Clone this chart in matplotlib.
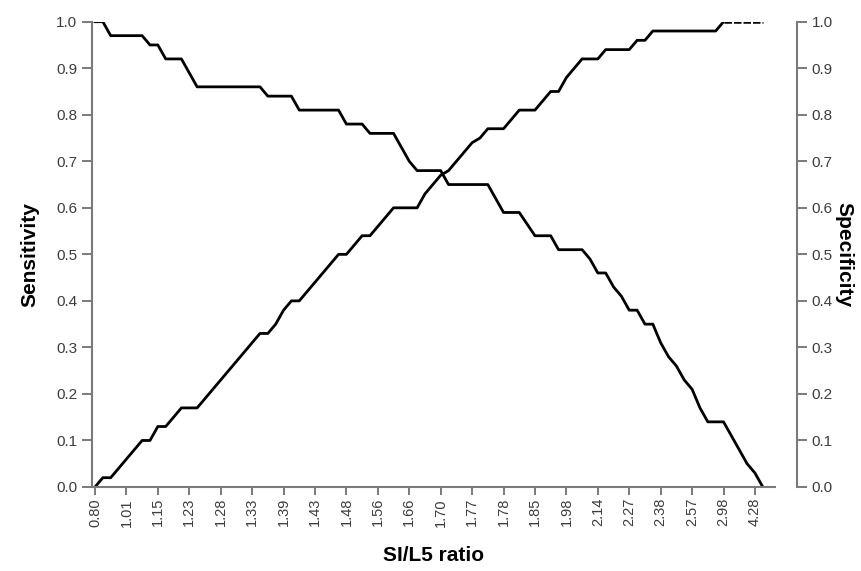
import numpy as np
import matplotlib.pyplot as plt

plt.rcParams['font.family'] = ['Liberation Sans', 'DejaVu Sans']

# cut-off ratios labelled on the x axis (every 4th cut-off point)
tick_labels = ['0.80', '1.01', '1.15', '1.23', '1.28', '1.33', '1.39', '1.43',
               '1.48', '1.56', '1.66', '1.70', '1.77', '1.78', '1.85', '1.98',
               '2.14', '2.27', '2.38', '2.57', '2.98', '4.28']

# sensitivity per cut-off point
sensitivity = [1.00, 1.00, 0.97, 0.97, 0.97, 0.97, 0.97, 0.95, 0.95, 0.92,
               0.92, 0.92, 0.89, 0.86, 0.86, 0.86, 0.86, 0.86, 0.86, 0.86,
               0.86, 0.86, 0.84, 0.84, 0.84, 0.84, 0.81, 0.81, 0.81, 0.81,
               0.81, 0.81, 0.78, 0.78, 0.78, 0.76, 0.76, 0.76, 0.76, 0.73,
               0.70, 0.68, 0.68, 0.68, 0.68, 0.65, 0.65, 0.65, 0.65, 0.65,
               0.65, 0.62, 0.59, 0.59, 0.59, 0.565, 0.54, 0.54, 0.54, 0.51,
               0.51, 0.51, 0.51, 0.49, 0.46, 0.46, 0.43, 0.41, 0.38, 0.38,
               0.35, 0.35, 0.31, 0.28, 0.26, 0.23, 0.21, 0.17, 0.14, 0.14,
               0.14, 0.11, 0.08, 0.05, 0.03, 0.00]

# specificity per cut-off point
specificity = [0.00, 0.02, 0.02, 0.04, 0.06, 0.08, 0.10, 0.10, 0.13, 0.13,
               0.15, 0.17, 0.17, 0.17, 0.19, 0.21, 0.23, 0.25, 0.27, 0.29,
               0.31, 0.33, 0.33, 0.35, 0.38, 0.40, 0.40, 0.42, 0.44, 0.46,
               0.48, 0.50, 0.50, 0.52, 0.54, 0.54, 0.56, 0.58, 0.60, 0.60,
               0.60, 0.60, 0.63, 0.65, 0.67, 0.68, 0.70, 0.72, 0.74, 0.75,
               0.77, 0.77, 0.77, 0.79, 0.81, 0.81, 0.81, 0.83, 0.85, 0.85,
               0.88, 0.90, 0.92, 0.92, 0.92, 0.94, 0.94, 0.94, 0.94, 0.96,
               0.96, 0.98, 0.98, 0.98, 0.98, 0.98, 0.98, 0.98, 0.98, 0.98,
               1.00, 1.00, 1.00, 1.00, 1.00, 1.00]

x = np.arange(len(sensitivity))
tick_pos = np.arange(len(tick_labels)) * 4

axis_grey = '#7a7a7a'
text_grey = '#3c3c3c'

fig = plt.figure(figsize=(8.62, 5.71), dpi=100)
ax = fig.add_axes([92 / 862, 84 / 571, (775 - 92) / 862, (487 - 21.7) / 571])

ax.plot(x, sensitivity, color='black', linewidth=2.0)
ax.plot(x[:81], specificity[:81], color='black', linewidth=2.0)
ax.plot(x[80:], specificity[80:], color='black', linewidth=1.8,
        linestyle=(0, (3, 0.8)))

ax.set_xlim(-0.38, 86.55)
ax.set_ylim(0, 1)
ax.set_xticks(tick_pos)
ax.set_xticklabels(tick_labels, rotation=90)
ax.set_yticks(np.arange(0, 1.01, 0.1))
ax.set_yticklabels([f'{v:.1f}' for v in np.arange(0, 1.01, 0.1)])

ax2 = ax.twinx()
ax2.set_ylim(0, 1)
ax2.set_yticks(np.arange(0, 1.01, 0.1))
ax2.set_yticklabels([f'{v:.1f}' for v in np.arange(0, 1.01, 0.1)])
ax2.spines['right'].set_position(('outward', 16))

for a in (ax, ax2):
    for s in a.spines.values():
        s.set_color(axis_grey)
        s.set_linewidth(1.5)
    a.spines['top'].set_visible(False)
    a.tick_params(colors=axis_grey, labelcolor=text_grey, width=1.4,
                  length=7, labelsize=11)
ax.spines['right'].set_visible(False)
ax2.spines['left'].set_visible(False)
ax2.spines['bottom'].set_visible(False)
ax.tick_params(axis='x', labelsize=10.5, pad=2, length=6)

ax.set_xlabel('SI/L5 ratio', fontsize=15, fontweight='bold', labelpad=14)
ax.set_ylabel('Sensitivity', fontsize=15, fontweight='bold', labelpad=12)
ax2.set_ylabel('Specificity', fontsize=15, fontweight='bold', rotation=270,
               labelpad=15)

plt.savefig('out.png', dpi=100)
